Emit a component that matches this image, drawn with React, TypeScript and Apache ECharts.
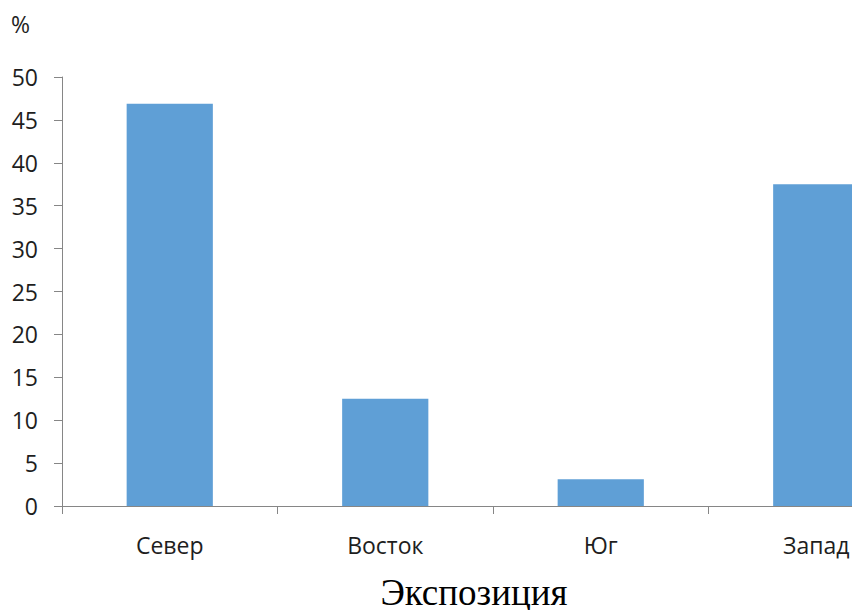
import React, { useEffect, useRef } from "react";
import * as echarts from "echarts";

// Distribution by slope exposure, in percent
const categories = ["Север", "Восток", "Юг", "Запад"];
const shares = [46.875, 12.5, 3.125, 37.5];
const yTicks = { min: 0, max: 50, interval: 5 };
const unitLabel = "%";
const axisTitle = "Экспозиция";

const labelFont = "'Open Sans', 'DejaVu Sans', sans-serif";

export default function App() {
  const ref = useRef<HTMLDivElement>(null);

  useEffect(() => {
    if (!ref.current) return;
    const chart = echarts.init(ref.current, null, { renderer: "svg" });
    chart.setOption({
      animation: false,
      backgroundColor: "#ffffff",
      // The plot runs past the right edge, so the last bar is cut off.
      grid: {
        left: 62,
        top: 77,
        height: 429,
        right: -72,
        outerBoundsMode: "none",
        containLabel: false,
      },
      xAxis: {
        type: "category",
        data: categories,
        axisLine: { lineStyle: { color: "#868686", width: 1 } },
        axisTick: { show: true, length: 8, lineStyle: { color: "#868686" } },
        axisLabel: {
          color: "#1e1e1e",
          fontFamily: labelFont,
          fontSize: 23,
          margin: 27,
        },
      },
      yAxis: {
        type: "value",
        min: yTicks.min,
        max: yTicks.max,
        interval: yTicks.interval,
        splitLine: { show: false },
        axisLine: { show: true, lineStyle: { color: "#868686", width: 1 } },
        axisTick: { show: true, length: 8, lineStyle: { color: "#868686" } },
        axisLabel: {
          color: "#1e1e1e",
          fontFamily: labelFont,
          fontSize: 23,
          margin: 24,
        },
      },
      series: [
        {
          type: "bar",
          data: shares,
          barCategoryGap: "60%",
          itemStyle: { color: "#5F9FD6" },
        },
      ],
      graphic: [
        {
          type: "text",
          left: 11,
          top: 12,
          style: {
            text: unitLabel,
            fill: "#1e1e1e",
            font: `23px ${labelFont}`,
          },
        },
        {
          type: "text",
          x: 474,
          y: 592,
          style: {
            text: axisTitle,
            fill: "#000000",
            font: "37px 'Liberation Serif', 'Times New Roman', serif",
            align: "center",
            verticalAlign: "middle",
          },
        },
      ],
    });
    return () => chart.dispose();
  }, []);

  return (
    <div
      ref={ref}
      style={{ width: 852, height: 610, position: "absolute", left: 0, top: 0 }}
    />
  );
}
